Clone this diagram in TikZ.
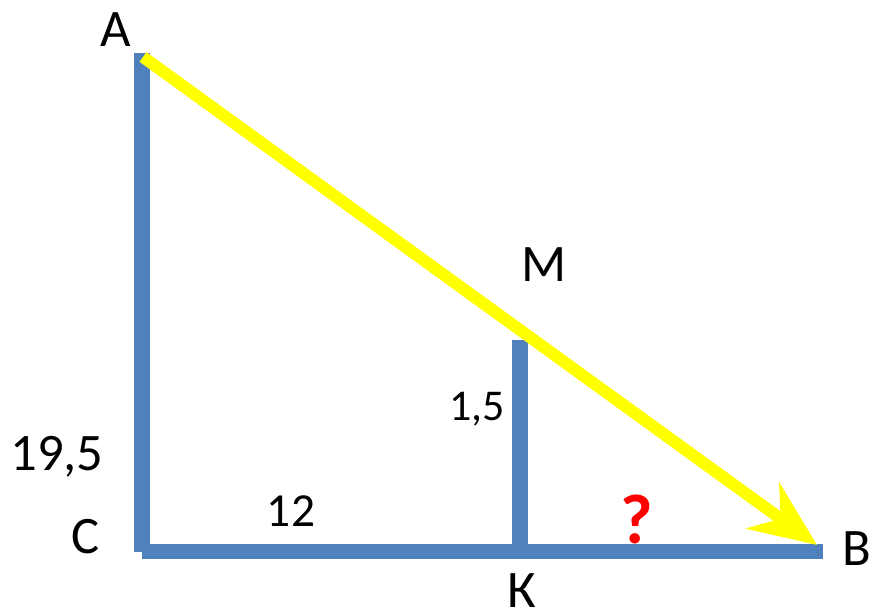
\documentclass[tikz,border=0pt]{standalone}
\usepackage{fontspec}
\setmainfont{Carlito}
\usepackage{xcolor}
\definecolor{segblue}{RGB}{79,129,189}
\definecolor{segyellow}{RGB}{255,255,0}
\definecolor{segred}{RGB}{255,0,0}
\usetikzlibrary{arrows.meta}
\tikzset{
  seg/.style={draw=segblue, line width=8.8pt},
  path/.style={draw=segyellow, line width=6.8pt,
    -{Stealth[length=38pt, width=32pt, inset=12.5pt]}},
  lbl/.style={font=\fontsize{30}{36}\selectfont, inner sep=0pt},
  num/.style={font=\fontsize{27}{32}\selectfont, inner sep=0pt}
}

\begin{document}
\begin{tikzpicture}[x=0.02cm, y=-0.02cm]
      \useasboundingbox (0,0) rectangle (871,608);

      % Points of the triangle
      \coordinate (A) at (142,53);
      \coordinate (C) at (142,552);
      \coordinate (C2) at (142,551.5);
      \coordinate (B) at (823,551.5);
      \coordinate (K) at (520,551.5);
      \coordinate (M) at (520,340);
      \coordinate (start) at (143,57);
      \coordinate (tip) at (817,545);

      % Sides
      \draw[seg] (A) -- (C);
      \draw[seg] (C2) -- (B);
      \draw[seg] (K) -- (M);

      % Path along the hypotenuse
      \draw[path] (start) -- (tip);

      % Labels
      \node[lbl] (labA) at (116,30) {A};
      \node[lbl] (labC) at (86,537) {C};
      \node[lbl] (labB) at (857,549) {B};
      \node[lbl] (labM) at (544,265) {M};
      \node[lbl] (labK) at (522,591) {К};
      \node[lbl] (labAC) at (57,457) {19,5};
      \node[num] (labCK) at (291,511) {12};
      \node[font=\fontsize{25}{30}\selectfont, inner sep=0pt] (labKM) at (477,409) {1,5};
      \node[font=\fontsize{40}{46}\selectfont\bfseries, text=segred, inner sep=0pt] (labKB) at (637,519) {?};
\end{tikzpicture}
\end{document}
